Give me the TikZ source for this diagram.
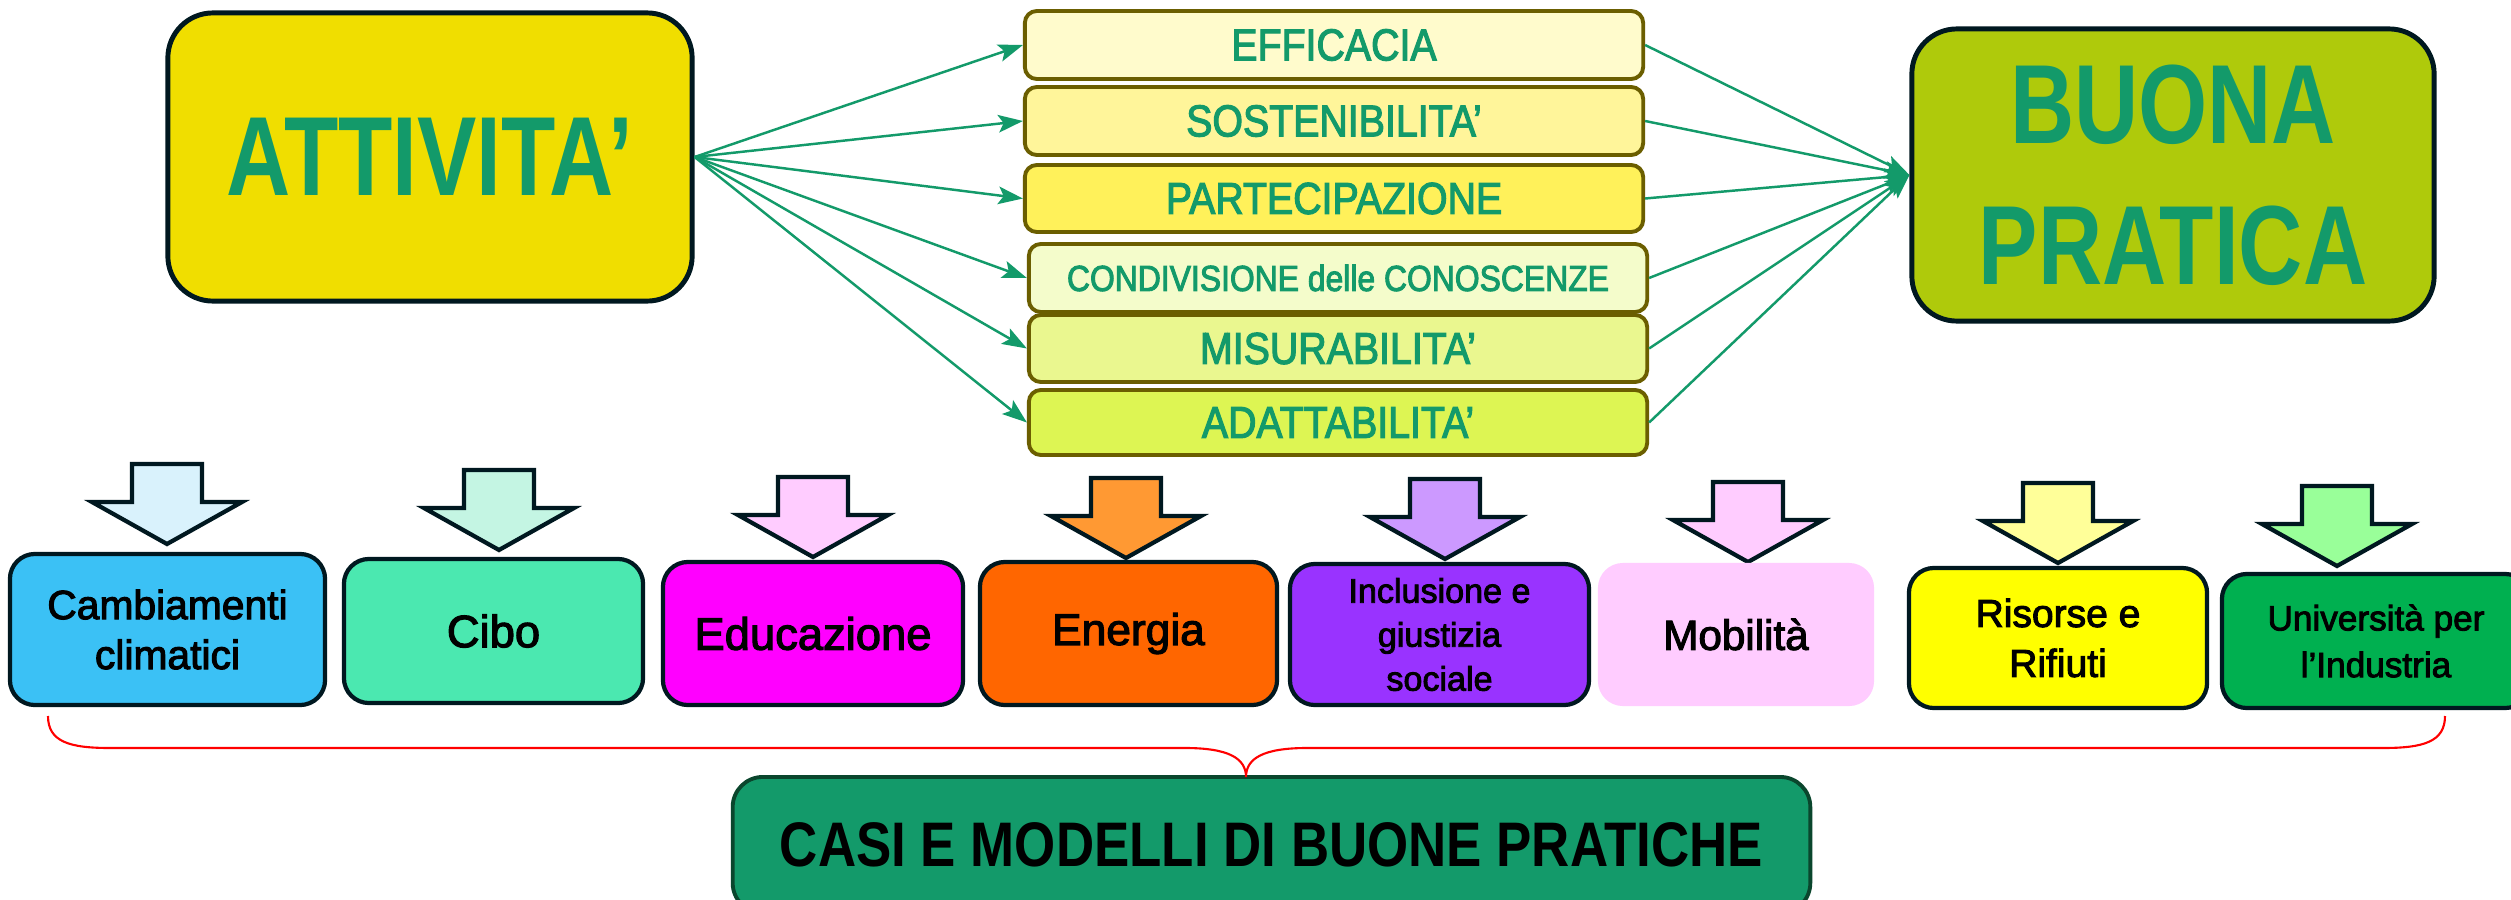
\documentclass[tikz,border=0pt]{standalone}
\usepackage{fontspec}
\setmainfont{Liberation Sans}
\newfontfamily\bigfont[FakeStretch=0.79]{Liberation Sans Bold}
\newfontfamily\critfont[FakeStretch=0.88,FakeBold=2.5]{Liberation Sans}
\newfontfamily\casifont[FakeStretch=0.84]{Liberation Sans Bold}
\newfontfamily\catfont[FakeBold=2.5]{Liberation Sans}
\usetikzlibrary{arrows.meta}
\definecolor{tgreen}{RGB}{19,154,106}
\definecolor{dk}{RGB}{0,24,32}
\definecolor{olivebd}{RGB}{107,94,0}
\definecolor{attfill}{RGB}{240,222,0}
\definecolor{bpfill}{RGB}{175,202,11}
\definecolor{cEff}{RGB}{255,251,204}
\definecolor{cSos}{RGB}{255,245,154}
\definecolor{cPar}{RGB}{255,241,90}
\definecolor{cCon}{RGB}{244,252,203}
\definecolor{cMis}{RGB}{234,247,143}
\definecolor{cAda}{RGB}{221,245,83}
\definecolor{k1}{RGB}{59,193,245}
\definecolor{k2}{RGB}{75,232,176}
\definecolor{k3}{RGB}{255,0,255}
\definecolor{k4}{RGB}{255,102,0}
\definecolor{k5}{RGB}{153,51,255}
\definecolor{k6}{RGB}{255,204,255}
\definecolor{k7}{RGB}{255,255,0}
\definecolor{k8}{RGB}{0,176,80}
\definecolor{a1}{RGB}{217,242,252}
\definecolor{a2}{RGB}{196,245,227}
\definecolor{a3}{RGB}{255,204,255}
\definecolor{a4}{RGB}{255,153,51}
\definecolor{a5}{RGB}{204,153,255}
\definecolor{a6}{RGB}{255,204,255}
\definecolor{a7}{RGB}{255,255,153}
\definecolor{a8}{RGB}{153,255,153}
\definecolor{casibd}{RGB}{10,70,45}
\tikzset{
  bigbox/.style={draw=dk, line width=1.4pt, rounded corners=0.45cm, inner sep=0pt,
    text=tgreen, align=center, font=\bigfont\fontsize{32}{40}\selectfont},
  crit/.style={draw=olivebd, line width=1.1pt, rounded corners=0.12cm, inner sep=0pt,
    minimum width=6.18cm, minimum height=0.67cm, text=tgreen,
    font=\critfont\fontsize{12.7}{14}\selectfont},
  cat/.style={draw=dk, line width=1.2pt, rounded corners=0.25cm, inner sep=0pt,
    align=center, text=black},
  conn/.style={draw=tgreen, line width=0.7pt, -{Stealth[length=7pt,width=5pt,inset=1.5pt]}},
  blockarrow/.style={draw=dk, line width=1.2pt, line join=miter},
  brace/.style={draw=red, line width=0.6pt},
}
\newcommand\blockarr[3]{%
  \draw[blockarrow, fill=#3] ({#1-35},#2) -- ({#1+35},#2) -- ({#1+35},{#2+38})
    -- ({#1+75},{#2+38}) -- (#1,{#2+80}) -- ({#1-75},{#2+38}) -- ({#1-35},{#2+38}) -- cycle;}
\begin{document}
\begin{tikzpicture}[x=0.01cm,y=-0.01cm]
\useasboundingbox[fill=white] (0,0) rectangle (2511,900);

% main boxes
\node[bigbox, fill=attfill, minimum width=5.24cm, minimum height=2.88cm] (att) at (430,157) {ATTIVITA’};
\node[bigbox, fill=bpfill, minimum width=5.22cm, minimum height=2.92cm] (bp) at (2173,175) {BUONA\\PRATICA};

% criteria
\node[crit, fill=cEff, minimum height=0.68cm] (eff) at (1334,45) {EFFICACIA};
\node[crit, fill=cSos, minimum height=0.68cm] (sos) at (1334,121) {SOSTENIBILITA’};
\node[crit, fill=cPar] (par) at (1334,198.5) {PARTECIPAZIONE};
\node[crit, fill=cCon, minimum height=0.68cm, font=\critfont\fontsize{10.3}{12}\selectfont] (con) at (1338,278) {CONDIVISIONE delle CONOSCENZE};
\node[crit, fill=cMis] (mis) at (1338,348.5) {MISURABILITA’};
\node[crit, fill=cAda, minimum height=0.65cm] (ada) at (1338,422.5) {ADATTABILITA’};

\foreach \n in {eff,sos,par,con,mis,ada}{
  \draw[conn] (att.east) -- (\n.west);
  \draw[conn] (\n.east) -- (bp.west);
}

% block arrows
\blockarr{167}{464}{a1}
\blockarr{499}{470}{a2}
\blockarr{813}{477}{a3}
\blockarr{1126}{478}{a4}
\blockarr{1445}{479}{a5}
\blockarr{1748}{482}{a6}
\blockarr{2058}{483}{a7}
\blockarr{2337}{486}{a8}

% categories
\node[cat, fill=k1, minimum width=3.15cm, minimum height=1.51cm, font=\catfont\fontsize{11.6}{14.2}\selectfont] (c1) at (167.5,629.5) {Cambiamenti\\climatici};
\node[cat, fill=k2, minimum width=2.99cm, minimum height=1.44cm, font=\catfont\fontsize{12.9}{15}\selectfont] (c2) at (493.5,631) {Cibo};
\node[cat, fill=k3, minimum width=3.00cm, minimum height=1.43cm, font=\catfont\fontsize{12.9}{15}\selectfont] (c3) at (813,633.5) {Educazione};
\node[cat, fill=k4, minimum width=2.97cm, minimum height=1.43cm, font=\catfont\fontsize{12.6}{15}\selectfont] (c4) at (1128.5,633.5) {Energia};
\node[cat, fill=k5, minimum width=2.99cm, minimum height=1.41cm, font=\catfont\fontsize{9.7}{12.5}\selectfont] (c5) at (1439.5,634.5) {Inclusione e\\giustizia\\sociale};
\node[cat, draw=none, fill=k6, minimum width=2.76cm, minimum height=1.43cm, font=\catfont\fontsize{12}{15}\selectfont] (c6) at (1736,634.5) {Mobilità};
\node[cat, fill=k7, minimum width=2.98cm, minimum height=1.40cm, font=\catfont\fontsize{11.1}{14.2}\selectfont] (c7) at (2058,638) {Risorse e\\Rifiuti};
\node[cat, fill=k8, minimum width=3.08cm, minimum height=1.34cm, font=\catfont\fontsize{10}{13.3}\selectfont] (c8) at (2376,641) {Università per\\l’Industria};

% bottom box
\node[draw=casibd, fill=tgreen, line width=1.1pt, rounded corners=0.3cm, inner sep=0pt,
  minimum width=10.77cm, minimum height=1.36cm, font=\casifont\fontsize{17.9}{20}\selectfont] (casi) at (1271.5,845) {CASI E MODELLI DI BUONE PRATICHE};

% brace
\coordinate (bl) at (48,716);
\coordinate (br) at (2445,716);
\coordinate (tip) at (1246,777);
\draw[brace] (bl) .. controls (48,742) and (70,748) .. (110,748) -- (1185,748)
  .. controls (1228,748) and (1246,758) .. (tip)
  .. controls (1246,758) and (1264,748) .. (1307,748) -- (2383,748)
  .. controls (2423,748) and (2445,742) .. (br);
\end{tikzpicture}
\end{document}
